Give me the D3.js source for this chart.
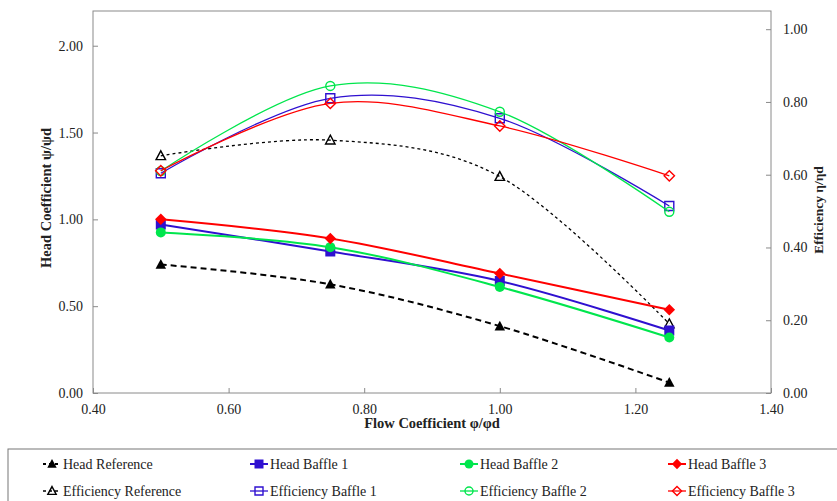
<!DOCTYPE html>
<html>
<head>
<meta charset="utf-8">
<script src="https://cdn.jsdelivr.net/npm/d3@7"></script>
<style>
  html, body { margin: 0; padding: 0; background: #fff; }
  svg { display: block; font-family: "Liberation Serif", "Times New Roman", serif; }
</style>
</head>
<body>
<svg id="chart" width="837" height="501"></svg>
<script>
// Flow coefficient samples
const flow = [0.50, 0.75, 1.00, 1.25];

// Head coefficient ψ/ψd
const headReference = [0.74, 0.626, 0.385, 0.06];
const headBaffle1   = [0.97, 0.815, 0.645, 0.36];
const headBaffle2   = [0.925, 0.84, 0.611, 0.32];
const headBaffle3   = [1.00, 0.89, 0.688, 0.48];

// Efficiency η/ηd
const effReference = [0.652, 0.695, 0.595, 0.19];
const effBaffle1   = [0.604, 0.81, 0.755, 0.514];
const effBaffle2   = [0.61, 0.844, 0.773, 0.498];
const effBaffle3   = [0.611, 0.796, 0.734, 0.597];

// Tick labels
const xTicks = [0.40, 0.60, 0.80, 1.00, 1.20, 1.40];
const yLeftTicks = [0.00, 0.50, 1.00, 1.50, 2.00];
const yRightTicks = [0.00, 0.20, 0.40, 0.60, 0.80, 1.00];

const BLACK = "#000000", BLUE = "#2f10d0", GREEN = "#00e64d", RED = "#ff0000";

const series = [
  { name: "Head Reference",       values: headReference, axis: "left",  color: BLACK, shape: "triangle", filled: true,  width: 2,   dash: "6,4" },
  { name: "Head Baffle 1",        values: headBaffle1,   axis: "left",  color: BLUE,  shape: "square",   filled: true,  width: 2,   dash: null },
  { name: "Head Baffle 2",        values: headBaffle2,   axis: "left",  color: GREEN, shape: "circle",   filled: true,  width: 2,   dash: null },
  { name: "Head Baffle 3",        values: headBaffle3,   axis: "left",  color: RED,   shape: "diamond",  filled: true,  width: 2,   dash: null },
  { name: "Efficiency Reference", values: effReference,  axis: "right", color: BLACK, shape: "triangle", filled: false, width: 1.3, dash: "3,3" },
  { name: "Efficiency Baffle 1",  values: effBaffle1,    axis: "right", color: BLUE,  shape: "square",   filled: false, width: 1.3, dash: null },
  { name: "Efficiency Baffle 2",  values: effBaffle2,    axis: "right", color: GREEN, shape: "circle",   filled: false, width: 1.3, dash: null },
  { name: "Efficiency Baffle 3",  values: effBaffle3,    axis: "right", color: RED,   shape: "diamond",  filled: false, width: 1.3, dash: null }
];

const svg = d3.select("#chart");
const plot = { left: 93, right: 771, top: 11, bottom: 393 };

const x = d3.scaleLinear().domain([0.4, 1.4]).range([plot.left, plot.right]);
const yL = d3.scaleLinear().domain([0, 2.2]).range([plot.bottom, plot.top]);
const yR = d3.scaleLinear().domain([0, 1.05]).range([plot.bottom, plot.top]);

const AXIS_COLOR = "#8a8a8a";
const TEXT_COLOR = "#222";

// Plot frame
svg.append("rect")
  .attr("x", plot.left).attr("y", plot.top)
  .attr("width", plot.right - plot.left).attr("height", plot.bottom - plot.top)
  .attr("fill", "none").attr("stroke", AXIS_COLOR).attr("stroke-width", 1);

function styleAxis(g) {
  g.select(".domain").remove();
  g.selectAll(".tick line").attr("stroke", AXIS_COLOR);
  g.selectAll(".tick text").attr("fill", TEXT_COLOR).attr("font-size", 14)
    .attr("font-family", "Liberation Serif, Times New Roman, serif");
}

// Bottom axis, ticks pointing inward
svg.append("g").attr("transform", `translate(0,${plot.bottom})`)
  .call(d3.axisBottom(x).tickValues(xTicks).tickFormat(d3.format(".2f")).tickSizeInner(-5).tickSizeOuter(0).tickPadding(11))
  .call(styleAxis);

// Left axis
svg.append("g").attr("transform", `translate(${plot.left},0)`)
  .call(d3.axisLeft(yL).tickValues(yLeftTicks).tickFormat(d3.format(".2f")).tickSizeInner(-5).tickSizeOuter(0).tickPadding(10))
  .call(styleAxis);

// Right axis
svg.append("g").attr("transform", `translate(${plot.right},0)`)
  .call(d3.axisRight(yR).tickValues(yRightTicks).tickFormat(d3.format(".2f")).tickSizeInner(-5).tickSizeOuter(0).tickPadding(12))
  .call(styleAxis);

// Axis titles
svg.append("text")
  .attr("x", 432).attr("y", 428)
  .attr("text-anchor", "middle").attr("font-weight", "bold").attr("font-size", 14.5)
  .attr("fill", TEXT_COLOR).text("Flow Coefficient φ/φd");

svg.append("text")
  .attr("transform", "translate(51,198) rotate(-90)")
  .attr("text-anchor", "middle").attr("font-weight", "bold").attr("font-size", 14.5)
  .attr("fill", TEXT_COLOR).text("Head Coefficient ψ/ψd");

svg.append("text")
  .attr("transform", "translate(823,210) rotate(-90)")
  .attr("text-anchor", "middle").attr("font-weight", "bold").attr("font-size", 13.5)
  .attr("fill", TEXT_COLOR).text("Efficiency η/ηd");

// Marker path generator
function markerPath(shape, s) {
  const h = s / 2;
  switch (shape) {
    case "triangle": return `M0,${-h * 1.1}L${h * 1.05},${h * 0.85}L${-h * 1.05},${h * 0.85}Z`;
    case "square": return `M${-h},${-h}H${h}V${h}H${-h}Z`;
    case "diamond": return `M0,${-h * 1.15}L${h * 1.15},0L0,${h * 1.15}L${-h * 1.15},0Z`;
    default: return null;
  }
}

function drawMarker(g, shape, filled, color, cx, cy, size) {
  const sw = filled ? 0 : 1.4;
  if (shape === "circle") {
    g.append("circle").attr("cx", cx).attr("cy", cy).attr("r", size / 2)
      .attr("fill", filled ? color : "none").attr("stroke", color).attr("stroke-width", filled ? 0 : sw);
  } else {
    g.append("path").attr("d", markerPath(shape, size))
      .attr("transform", `translate(${cx},${cy})`)
      .attr("fill", filled ? color : "none").attr("stroke", color).attr("stroke-width", sw);
  }
}

const curve = d3.curveCatmullRom.alpha(0);

// Draw series: efficiency lines first, then head lines
const drawOrder = [4, 5, 6, 7, 0, 1, 2, 3];
drawOrder.forEach(i => {
  const s = series[i];
  const yScale = s.axis === "left" ? yL : yR;
  const pts = flow.map((f, k) => [x(f), yScale(s.values[k])]);
  const g = svg.append("g");
  g.append("path")
    .attr("d", d3.line().curve(curve)(pts))
    .attr("fill", "none").attr("stroke", s.color).attr("stroke-width", s.width)
    .attr("stroke-dasharray", s.dash);
  pts.forEach(p => drawMarker(g, s.shape, s.filled, s.color, p[0], p[1], s.filled ? 10 : 9));
});

// Legend
const legend = svg.append("g");
legend.append("rect")
  .attr("x", 8).attr("y", 449).attr("width", 840).attr("height", 60)
  .attr("fill", "#fff").attr("stroke", "#777").attr("stroke-width", 1);

const colX = [52, 259, 469, 677];
const rowY = [464, 491];
series.forEach((s, i) => {
  const cx = colX[i % 4], cy = rowY[Math.floor(i / 4)];
  const g = legend.append("g");
  g.append("line").attr("x1", cx - 9).attr("x2", cx + 9).attr("y1", cy).attr("y2", cy)
    .attr("stroke", s.color).attr("stroke-width", s.filled ? 2 : 1.3)
    .attr("stroke-dasharray", s.dash ? "3,3" : null);
  drawMarker(g, s.shape, s.filled, s.color, cx, cy, s.filled ? 9 : 8);
  g.append("text").attr("x", cx + 11).attr("y", cy + 5)
    .attr("font-size", 14).attr("fill", TEXT_COLOR).text(s.name);
});
</script>
</body>
</html>
